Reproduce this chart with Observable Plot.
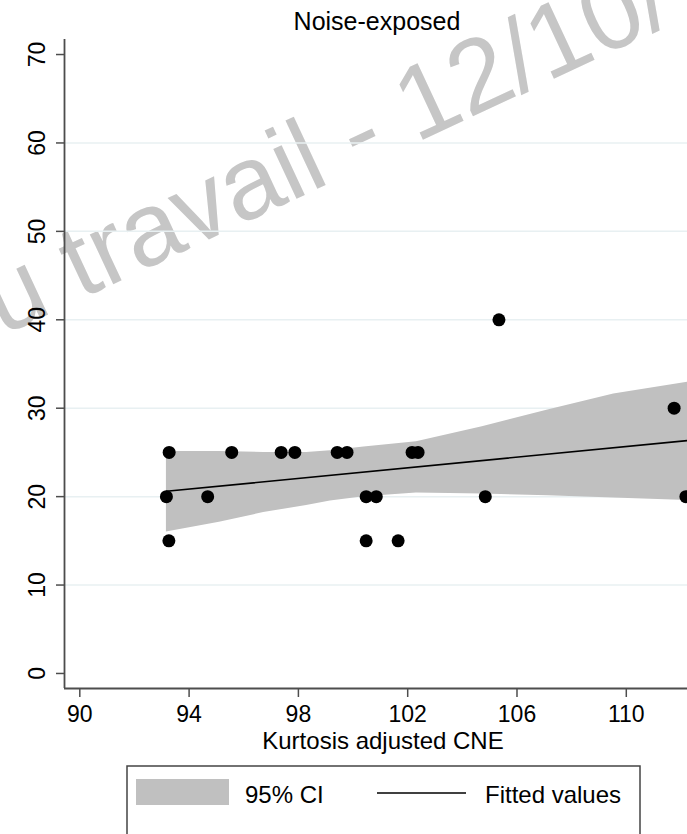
<!DOCTYPE html>
<html><head><meta charset="utf-8">
<script src="https://cdn.jsdelivr.net/npm/d3@7"></script>
<script src="https://cdn.jsdelivr.net/npm/@observablehq/plot@0.6"></script>
<style>
html,body{margin:0;padding:0;background:#fff;overflow:hidden;}
#chart{position:relative;width:687px;height:834px;}
</style></head><body><div id="chart"></div>
<script>
// Scatter points (Kurtosis adjusted CNE, outcome)
const pointX = [93.27, 93.17, 93.26, 94.68, 95.56, 97.37, 97.87, 99.42, 99.78, 100.48, 100.85, 100.48, 101.65, 102.16, 102.38, 104.84, 105.34, 111.75, 112.18];
const pointY = [25, 20, 15, 20, 25, 25, 25, 25, 25, 20, 20, 15, 15, 25, 25, 20, 40, 30, 20];
// Fitted values line
const fitX = [93.17, 112.24];
const fitY = [20.6, 26.34];
// 95% CI band
const ciX    = [93.17, 95.11, 96.73, 98.30, 99.17, 100.40, 102.32, 104.73, 107.13, 109.54, 112.24];
const ciLow  = [16.0, 17.1, 18.2, 19.0, 19.5, 20.0, 20.4, 20.3, 20.1, 19.85, 19.55];
const ciHigh = [25.1, 25.1, 25.0, 25.0, 25.2, 25.6, 26.2, 27.9, 29.8, 31.6, 32.95];
// Axes
const xTicks = [90, 94, 98, 102, 106, 110];
const yTicks = [0, 10, 20, 30, 40, 50, 60, 70];
const gridValues = [10, 20, 30, 40, 50, 60];
const xDomain = [89.44, 112.24];
const yDomain = [-1.7, 71.7];
// Texts
const titleText = "Noise-exposed";
const xLabel = "Kurtosis adjusted CNE";
const legendLabels = ["95% CI", "Fitted values"];
const watermarkText = "u travail - 12/10/";

const points = pointX.map((x, i) => ({x, y: pointY[i]}));
const ci = ciX.map((x, i) => ({x, lo: ciLow[i], hi: ciHigh[i]}));
const fit = fitX.map((x, i) => ({x, y: fitY[i]}));

const font = "'Liberation Sans', Arial, Helvetica, sans-serif";
const axisColor = "#4d4d4d";
const bandColor = "#c0c0c0";

const svg = Plot.plot({
  width: 687, height: 834,
  marginLeft: 64, marginRight: 0, marginTop: 39, marginBottom: 146,
  style: {fontFamily: font, background: "transparent", overflow: "hidden"},
  x: {domain: xDomain, axis: null},
  y: {domain: yDomain, axis: null},
  marks: [
    Plot.ruleY(gridValues, {stroke: "#e8f0f2", strokeWidth: 1.5}),
    Plot.areaY(ci, {x: "x", y1: "lo", y2: "hi", fill: bandColor}),
    Plot.line(fit, {x: "x", y: "y", stroke: "black", strokeWidth: 1.6}),
    Plot.dot(points, {x: "x", y: "y", r: 6.5, fill: "black"}),
    Plot.ruleX([xDomain[0]], {stroke: axisColor, strokeWidth: 1.8}),
    Plot.ruleY([yDomain[0]], {stroke: axisColor, strokeWidth: 1.8}),
    Plot.axisX({ticks: xTicks, tickSize: 9, tickFormat: () => "", stroke: axisColor, strokeWidth: 1.5, label: null}),
    Plot.axisY({ticks: yTicks, tickSize: 8, tickFormat: () => "", stroke: axisColor, strokeWidth: 1.5, label: null}),
    Plot.text(xTicks, {x: d => d, text: d => String(d), frameAnchor: "bottom", lineAnchor: "middle", textAnchor: "middle", dy: 26, fontSize: 23, fill: "black"}),
    Plot.text(yTicks, {y: d => d, text: d => String(d), frameAnchor: "left", lineAnchor: "middle", textAnchor: "middle", dx: -27, rotate: -90, fontSize: 23, fill: "black"})
  ]
});

const s = d3.select(svg);
// watermark (behind everything)
s.insert("text", ":first-child")
  .attr("transform", "translate(2,336) rotate(-25)")
  .attr("text-anchor", "start")
  .attr("font-family", font).attr("font-size", 104)
  .attr("fill", "#c6c6c6")
  .text(watermarkText);

// title
s.append("text").attr("x", 377).attr("y", 30)
  .attr("text-anchor", "middle").attr("font-family", font).attr("font-size", 25).attr("fill", "black")
  .text(titleText);

// x axis title
s.append("text").attr("x", 383).attr("y", 749)
  .attr("text-anchor", "middle").attr("font-family", font).attr("font-size", 24).attr("fill", "black")
  .text(xLabel);

// legend
const lg = s.append("g").attr("text-anchor", "start");
lg.append("rect").attr("x", 127).attr("y", 766).attr("width", 513).attr("height", 100)
  .attr("fill", "white").attr("stroke", "#444").attr("stroke-width", 1.5);
lg.append("rect").attr("x", 136).attr("y", 779).attr("width", 93).attr("height", 26).attr("fill", bandColor);
lg.append("text").attr("x", 245).attr("y", 803).attr("text-anchor", "start").attr("font-family", font).attr("font-size", 24).attr("fill", "black").text(legendLabels[0]);
lg.append("line").attr("x1", 377).attr("x2", 466).attr("y1", 793).attr("y2", 793).attr("stroke", "black").attr("stroke-width", 1.6);
lg.append("text").attr("x", 485).attr("y", 803).attr("text-anchor", "start").attr("font-family", font).attr("font-size", 24).attr("fill", "black").text(legendLabels[1]);

document.getElementById("chart").appendChild(svg);
</script>
</body></html>
